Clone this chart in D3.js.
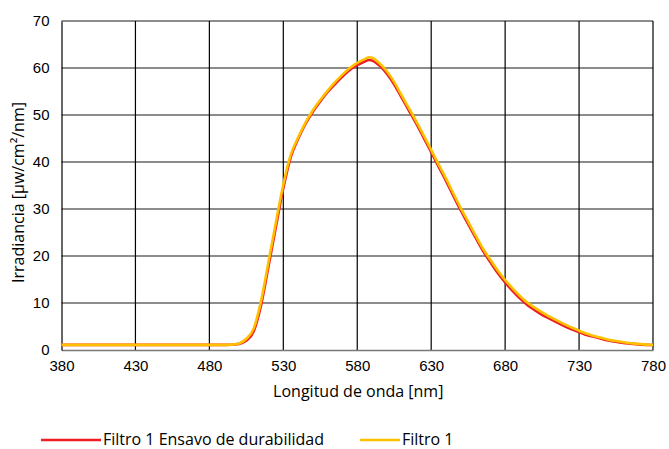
<!DOCTYPE html>
<html>
<head>
<meta charset="utf-8">
<script src="https://cdn.jsdelivr.net/npm/d3@7/dist/d3.min.js"></script>
<style>
  body { margin: 0; background: #fff; }
  svg { font-family: "Open Sans", "Noto Sans", sans-serif; }
</style>
</head>
<body>
<svg width="669" height="449"></svg>
<script>
var wavelengths = [380, 400, 450, 480, 490, 495, 500, 505, 510, 515, 520, 525, 530, 535, 540, 545,
  550, 555, 560, 565, 570, 575, 580, 585, 588, 590, 595, 600, 605, 610, 615, 620, 625, 630, 635,
  640, 645, 650, 655, 660, 665, 670, 675, 680, 685, 690, 695, 700, 705, 710, 715, 720, 725, 730,
  735, 740, 745, 750, 755, 760, 765, 770, 775, 780];

var filtro1 = [1.1, 1.1, 1.1, 1.1, 1.1, 1.15, 1.4, 2.4, 4.6, 10.5, 18.8, 27.2, 35.2, 41.5, 45.2, 48.4,
  51.0, 53.2, 55.2, 57.0, 58.6, 60.0, 61.1, 61.9, 62.3, 62.2, 61.0, 59.3, 57.0, 54.2, 51.4, 48.6, 45.6, 42.6, 39.5,
  36.5, 33.3, 30.2, 27.3, 24.4, 21.6, 19.2, 16.9, 14.9, 13.1, 11.5, 10.1, 9.0, 8.0, 7.1, 6.3, 5.5, 4.8, 4.1,
  3.5, 3.0, 2.6, 2.2, 1.9, 1.65, 1.45, 1.3, 1.15, 1.1];

var filtro1Ensayo = [1.1, 1.1, 1.1, 1.1, 1.1, 1.12, 1.3, 2.0, 4.0, 9.6, 17.8, 26.2, 34.4, 41.0, 44.9, 48.1,
  50.7, 52.9, 54.9, 56.6, 58.2, 59.6, 60.6, 61.4, 61.7, 61.6, 60.5, 58.8, 56.5, 53.7, 50.9, 48.1, 45.1, 42.1, 39.0,
  36.0, 32.8, 29.7, 26.8, 23.9, 21.1, 18.7, 16.4, 14.4, 12.6, 11.0, 9.6, 8.5, 7.5, 6.7, 5.9, 5.1, 4.4, 3.8,
  3.2, 2.8, 2.4, 2.0, 1.75, 1.5, 1.35, 1.2, 1.1, 1.05];

var xTicks = [380, 430, 480, 530, 580, 630, 680, 730, 780];
var yTicks = [0, 10, 20, 30, 40, 50, 60, 70];

var series = [
  {name: "Filtro 1 Ensavo de durabilidad", values: filtro1Ensayo, color: "#ee1c24"},
  {name: "Filtro 1", values: filtro1, color: "#ffc000"}
];

var svg = d3.select("svg"),
    margin = {top: 21, right: 16, bottom: 99, left: 61.5},
    width = 669 - margin.left - margin.right,
    height = 449 - margin.top - margin.bottom,
    g = svg.append("g").attr("transform", "translate(" + margin.left + "," + margin.top + ")");

var x = d3.scaleLinear().domain([380, 780]).range([0, width]);
var y = d3.scaleLinear().domain([0, 70]).range([height, 0]);

// grid
g.append("g").selectAll("line").data(yTicks.slice(1)).enter().append("line")
    .attr("x1", 0).attr("x2", width)
    .attr("y1", function(d) { return y(d); }).attr("y2", function(d) { return y(d); })
    .attr("stroke", "#1a1a1a").attr("stroke-width", 1.2);

g.append("g").selectAll("line").data(xTicks.slice(1)).enter().append("line")
    .attr("y1", 0).attr("y2", height)
    .attr("x1", function(d) { return x(d); }).attr("x2", function(d) { return x(d); })
    .attr("stroke", "#000").attr("stroke-width", 1.2);

// axes
var xAxis = g.append("g")
    .attr("transform", "translate(0," + height + ")")
    .call(d3.axisBottom(x).tickValues(xTicks).tickSize(0).tickPadding(10));
xAxis.select(".domain").attr("stroke", "#777").attr("stroke-width", 1.5);
xAxis.selectAll("text").attr("font-size", 15).attr("fill", "#000");

var yAxis = g.append("g")
    .call(d3.axisLeft(y).tickValues(yTicks).tickSize(0).tickPadding(12));
yAxis.select(".domain").attr("stroke", "#000").attr("stroke-width", 1.2);
yAxis.selectAll("text").attr("font-size", 15).attr("fill", "#000");

g.append("text")
    .attr("x", width / 2 + 1).attr("y", height + 47)
    .attr("text-anchor", "middle").attr("font-size", 16)
    .text("Longitud de onda [nm]");

svg.append("text")
    .attr("transform", "translate(24," + (margin.top + height / 2 + 7) + ") rotate(-90)")
    .attr("text-anchor", "middle").attr("font-size", 16)
    .text("Irradiancia [µw/cm²/nm]");

// curves
var line = d3.line()
    .x(function(d, i) { return x(wavelengths[i]); })
    .y(function(d) { return y(d); })
    .curve(d3.curveMonotoneX);

series.forEach(function(s) {
  g.append("path")
      .datum(s.values)
      .attr("fill", "none")
      .attr("stroke", s.color)
      .attr("stroke-width", 2.6)
      .attr("d", line);
});

// legend
var legendX = [41, 360];
var legendLen = [60, 40];
series.forEach(function(s, i) {
  var lg = svg.append("g").attr("transform", "translate(" + legendX[i] + ",440)");
  lg.append("line").attr("x1", 0).attr("x2", legendLen[i])
      .attr("stroke", s.color).attr("stroke-width", 2.6);
  lg.append("text").attr("x", legendLen[i] + 2).attr("y", 5)
      .attr("font-size", 16).text(s.name);
});
</script>
</body>
</html>
